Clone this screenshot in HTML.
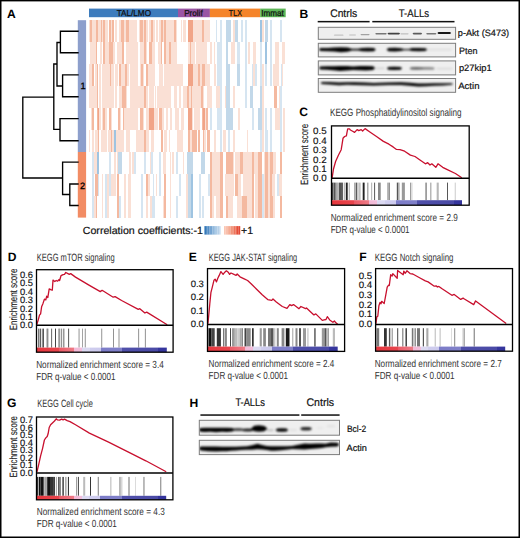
<!DOCTYPE html>
<html><head><meta charset="utf-8"><style>
html,body{margin:0;padding:0;background:#fff;}
svg{display:block;font-family:"Liberation Sans", sans-serif;text-rendering:geometricPrecision;}
</style></head><body>
<svg width="520" height="538" viewBox="0 0 520 538">
<rect width="520" height="538" fill="#fff"/>
<g>
<text x="7.0" y="17.9" font-size="12.1" font-weight="bold" fill="#000" text-anchor="start" >A</text>
<rect x="89" y="8.6" width="89.00" height="8.60" fill="#3d7cbd"/>
<text x="116.7" y="15.9" font-size="8.6" font-weight="normal" fill="#111" text-anchor="start" textLength="34.30" lengthAdjust="spacingAndGlyphs"  stroke="#111" stroke-width="0.25">TAL/LMO</text>
<rect x="178" y="8.6" width="31.90" height="8.60" fill="#9a55a4"/>
<text x="184.2" y="15.9" font-size="8.6" font-weight="normal" fill="#111" text-anchor="start" textLength="18.48" lengthAdjust="spacingAndGlyphs"  stroke="#111" stroke-width="0.25">Prolif</text>
<rect x="209.9" y="8.6" width="50.30" height="8.60" fill="#f5842a"/>
<text x="228.8" y="15.9" font-size="8.6" font-weight="normal" fill="#111" text-anchor="start" textLength="13.10" lengthAdjust="spacingAndGlyphs"  stroke="#111" stroke-width="0.25">TLX</text>
<rect x="260.2" y="8.6" width="25.50" height="8.60" fill="#5cb556"/>
<text x="261.3" y="15.9" font-size="8.6" font-weight="normal" fill="#111" text-anchor="start" textLength="22.50" lengthAdjust="spacingAndGlyphs"  stroke="#111" stroke-width="0.25">Immat</text>
<g shape-rendering="crispEdges"><rect x="88.80" y="20.20" width="0.72" height="21.93" fill="#fae0d5"/><rect x="89.52" y="20.20" width="2.28" height="21.93" fill="#f4b9a0"/><rect x="91.81" y="20.20" width="4.44" height="21.93" fill="#fae0d5"/><rect x="96.25" y="20.20" width="1.27" height="21.93" fill="#f4b9a0"/><rect x="98.15" y="20.20" width="2.54" height="21.93" fill="#fae0d5"/><rect x="100.69" y="20.20" width="1.02" height="21.93" fill="#f4b9a0"/><rect x="101.71" y="20.20" width="1.27" height="21.93" fill="#fae0d5"/><rect x="102.97" y="20.20" width="2.16" height="21.93" fill="#f4b9a0"/><rect x="105.13" y="20.20" width="3.17" height="21.93" fill="#fae0d5"/><rect x="109.32" y="20.20" width="1.52" height="21.93" fill="#f4b9a0"/><rect x="110.84" y="20.20" width="1.27" height="21.93" fill="#fae0d5"/><rect x="112.11" y="20.20" width="1.90" height="21.93" fill="#f4b9a0"/><rect x="115.28" y="20.20" width="1.27" height="21.93" fill="#fae0d5"/><rect x="119.09" y="20.20" width="1.65" height="21.93" fill="#fae0d5"/><rect x="120.74" y="20.20" width="3.05" height="21.93" fill="#f4b9a0"/><rect x="123.79" y="20.20" width="2.03" height="21.93" fill="#fae0d5"/><rect x="125.82" y="20.20" width="3.43" height="21.93" fill="#f4b9a0"/><rect x="129.24" y="20.20" width="8.25" height="21.93" fill="#fae0d5"/><rect x="138.76" y="20.20" width="1.52" height="21.93" fill="#fae0d5"/><rect x="140.28" y="20.20" width="2.54" height="21.93" fill="#f4b9a0"/><rect x="142.82" y="20.20" width="1.65" height="21.93" fill="#fae0d5"/><rect x="144.47" y="20.20" width="1.27" height="21.93" fill="#f4b9a0"/><rect x="145.74" y="20.20" width="1.90" height="21.93" fill="#fae0d5"/><rect x="148.91" y="20.20" width="1.90" height="21.93" fill="#fae0d5"/><rect x="150.82" y="20.20" width="1.90" height="21.93" fill="#f4b9a0"/><rect x="152.72" y="20.20" width="1.27" height="21.93" fill="#fae0d5"/><rect x="90.28" y="42.13" width="5.58" height="21.93" fill="#fae0d5"/><rect x="95.87" y="42.13" width="1.27" height="21.93" fill="#f4b9a0"/><rect x="100.44" y="42.13" width="1.52" height="21.93" fill="#fae0d5"/><rect x="103.48" y="42.13" width="1.27" height="21.93" fill="#f4b9a0"/><rect x="104.75" y="42.13" width="4.19" height="21.93" fill="#fae0d5"/><rect x="108.94" y="42.13" width="4.44" height="21.93" fill="#f4b9a0"/><rect x="113.38" y="42.13" width="1.90" height="21.93" fill="#fae0d5"/><rect x="117.19" y="42.13" width="4.82" height="21.93" fill="#fae0d5"/><rect x="122.01" y="42.13" width="1.52" height="21.93" fill="#f4b9a0"/><rect x="125.82" y="42.13" width="12.31" height="21.93" fill="#fae0d5"/><rect x="140.03" y="42.13" width="3.81" height="21.93" fill="#fae0d5"/><rect x="143.84" y="42.13" width="1.90" height="21.93" fill="#f4b9a0"/><rect x="145.74" y="42.13" width="1.27" height="21.93" fill="#fae0d5"/><rect x="148.91" y="42.13" width="3.55" height="21.93" fill="#f4b9a0"/><rect x="152.47" y="42.13" width="1.52" height="21.93" fill="#fae0d5"/><rect x="88.80" y="64.06" width="0.72" height="21.93" fill="#fae0d5"/><rect x="90.28" y="64.06" width="1.52" height="21.93" fill="#fae0d5"/><rect x="91.81" y="64.06" width="1.90" height="21.93" fill="#f4b9a0"/><rect x="94.98" y="64.06" width="1.65" height="21.93" fill="#fae0d5"/><rect x="96.63" y="64.06" width="1.78" height="21.93" fill="#f4b9a0"/><rect x="99.42" y="64.06" width="1.27" height="21.93" fill="#fae0d5"/><rect x="101.71" y="64.06" width="8.50" height="21.93" fill="#fae0d5"/><rect x="110.21" y="64.06" width="1.27" height="21.93" fill="#f4b9a0"/><rect x="111.48" y="64.06" width="2.54" height="21.93" fill="#fae0d5"/><rect x="115.28" y="64.06" width="2.54" height="21.93" fill="#fae0d5"/><rect x="119.09" y="64.06" width="1.90" height="21.93" fill="#f4b9a0"/><rect x="120.99" y="64.06" width="3.81" height="21.93" fill="#fae0d5"/><rect x="124.80" y="64.06" width="2.54" height="21.93" fill="#f4b9a0"/><rect x="127.34" y="64.06" width="1.27" height="21.93" fill="#fae0d5"/><rect x="129.88" y="64.06" width="8.25" height="21.93" fill="#fae0d5"/><rect x="140.03" y="64.06" width="1.27" height="21.93" fill="#fae0d5"/><rect x="141.30" y="64.06" width="1.52" height="21.93" fill="#f4b9a0"/><rect x="142.82" y="64.06" width="1.65" height="21.93" fill="#fae0d5"/><rect x="145.74" y="64.06" width="1.90" height="21.93" fill="#f4b9a0"/><rect x="147.64" y="64.06" width="6.35" height="21.93" fill="#fae0d5"/><rect x="154.00" y="20.20" width="1.02" height="21.93" fill="#fae0d5"/><rect x="155.90" y="20.20" width="1.90" height="21.93" fill="#fae0d5"/><rect x="159.08" y="20.20" width="1.52" height="21.93" fill="#fae0d5"/><rect x="160.60" y="20.20" width="2.28" height="21.93" fill="#f4b9a0"/><rect x="162.88" y="20.20" width="1.27" height="21.93" fill="#fae0d5"/><rect x="164.15" y="20.20" width="1.90" height="21.93" fill="#f4b9a0"/><rect x="166.06" y="20.20" width="8.25" height="21.93" fill="#fae0d5"/><rect x="174.30" y="20.20" width="1.90" height="21.93" fill="#f4b9a0"/><rect x="176.21" y="20.20" width="1.27" height="21.93" fill="#fae0d5"/><rect x="180.65" y="20.20" width="1.27" height="21.93" fill="#fae0d5"/><rect x="183.19" y="20.20" width="2.54" height="21.93" fill="#fae0d5"/><rect x="187.63" y="20.20" width="5.08" height="21.93" fill="#f1a487"/><rect x="192.71" y="20.20" width="9.52" height="21.93" fill="#fae0d5"/><rect x="202.22" y="20.20" width="1.90" height="21.93" fill="#f4b9a0"/><rect x="204.13" y="20.20" width="5.71" height="21.93" fill="#fae0d5"/><rect x="216.18" y="20.20" width="1.27" height="21.93" fill="#d6e5f1"/><rect x="154.00" y="42.13" width="1.27" height="21.93" fill="#fae0d5"/><rect x="157.81" y="42.13" width="3.17" height="21.93" fill="#fae0d5"/><rect x="160.98" y="42.13" width="1.27" height="21.93" fill="#f4b9a0"/><rect x="163.52" y="42.13" width="2.54" height="21.93" fill="#f4b9a0"/><rect x="166.06" y="42.13" width="3.17" height="21.93" fill="#fae0d5"/><rect x="169.23" y="42.13" width="1.52" height="21.93" fill="#f4b9a0"/><rect x="170.75" y="42.13" width="6.73" height="21.93" fill="#fae0d5"/><rect x="187.63" y="42.13" width="1.90" height="21.93" fill="#fae0d5"/><rect x="189.53" y="42.13" width="1.52" height="21.93" fill="#f4b9a0"/><rect x="191.06" y="42.13" width="3.55" height="21.93" fill="#fae0d5"/><rect x="195.88" y="42.13" width="11.42" height="21.93" fill="#fae0d5"/><rect x="209.84" y="42.13" width="1.90" height="21.93" fill="#fae0d5"/><rect x="213.64" y="42.13" width="1.27" height="21.93" fill="#fae0d5"/><rect x="217.45" y="42.13" width="2.54" height="21.93" fill="#d6e5f1"/><rect x="154.00" y="64.06" width="0.63" height="21.93" fill="#fae0d5"/><rect x="159.08" y="64.06" width="3.81" height="21.93" fill="#fae0d5"/><rect x="163.90" y="64.06" width="19.29" height="21.93" fill="#fae0d5"/><rect x="187.63" y="64.06" width="5.08" height="21.93" fill="#f1a487"/><rect x="192.71" y="64.06" width="5.71" height="21.93" fill="#fae0d5"/><rect x="198.42" y="64.06" width="1.90" height="21.93" fill="#f4b9a0"/><rect x="200.32" y="64.06" width="1.90" height="21.93" fill="#fae0d5"/><rect x="202.22" y="64.06" width="2.54" height="21.93" fill="#f4b9a0"/><rect x="204.76" y="64.06" width="5.08" height="21.93" fill="#fae0d5"/><rect x="213.64" y="64.06" width="2.54" height="21.93" fill="#fae0d5"/><rect x="217.45" y="64.06" width="2.54" height="21.93" fill="#d6e5f1"/><rect x="220.00" y="20.20" width="1.52" height="21.93" fill="#d6e5f1"/><rect x="226.09" y="20.20" width="5.08" height="21.93" fill="#c2d8e9"/><rect x="233.32" y="20.20" width="1.65" height="21.93" fill="#fae0d5"/><rect x="234.97" y="20.20" width="3.43" height="21.93" fill="#c2d8e9"/><rect x="240.94" y="20.20" width="1.90" height="21.93" fill="#d6e5f1"/><rect x="244.75" y="20.20" width="2.16" height="21.93" fill="#d6e5f1"/><rect x="259.97" y="20.20" width="1.90" height="21.93" fill="#9fc4e1"/><rect x="261.88" y="20.20" width="1.90" height="21.93" fill="#fae0d5"/><rect x="265.05" y="20.20" width="3.17" height="21.93" fill="#c2d8e9"/><rect x="269.75" y="20.20" width="2.03" height="21.93" fill="#d6e5f1"/><rect x="279.64" y="20.20" width="2.28" height="21.93" fill="#d6e5f1"/><rect x="220.00" y="42.13" width="1.52" height="21.93" fill="#d6e5f1"/><rect x="226.09" y="42.13" width="2.16" height="21.93" fill="#c2d8e9"/><rect x="231.42" y="42.13" width="3.55" height="21.93" fill="#fae0d5"/><rect x="237.13" y="42.13" width="2.54" height="21.93" fill="#d6e5f1"/><rect x="244.75" y="42.13" width="2.16" height="21.93" fill="#d6e5f1"/><rect x="247.92" y="42.13" width="2.28" height="21.93" fill="#fae0d5"/><rect x="253.25" y="42.13" width="2.92" height="21.93" fill="#fae0d5"/><rect x="259.97" y="42.13" width="1.65" height="21.93" fill="#d6e5f1"/><rect x="265.05" y="42.13" width="1.90" height="21.93" fill="#9fc4e1"/><rect x="269.75" y="42.13" width="2.03" height="21.93" fill="#d6e5f1"/><rect x="275.20" y="42.13" width="3.81" height="21.93" fill="#fae0d5"/><rect x="282.18" y="42.13" width="3.02" height="21.93" fill="#fae0d5"/><rect x="220.00" y="64.06" width="1.52" height="21.93" fill="#d6e5f1"/><rect x="226.09" y="64.06" width="3.81" height="21.93" fill="#c2d8e9"/><rect x="237.13" y="64.06" width="2.54" height="21.93" fill="#c2d8e9"/><rect x="244.75" y="64.06" width="2.16" height="21.93" fill="#d6e5f1"/><rect x="251.73" y="64.06" width="1.52" height="21.93" fill="#d6e5f1"/><rect x="253.25" y="64.06" width="1.65" height="21.93" fill="#fae0d5"/><rect x="254.90" y="64.06" width="1.90" height="21.93" fill="#d6e5f1"/><rect x="259.97" y="64.06" width="1.90" height="21.93" fill="#d6e5f1"/><rect x="261.88" y="64.06" width="1.90" height="21.93" fill="#fae0d5"/><rect x="265.05" y="64.06" width="1.90" height="21.93" fill="#d6e5f1"/><rect x="269.75" y="64.06" width="2.03" height="21.93" fill="#d6e5f1"/><rect x="273.30" y="64.06" width="5.71" height="21.93" fill="#fae0d5"/><rect x="280.66" y="64.06" width="1.52" height="21.93" fill="#d6e5f1"/><rect x="282.18" y="64.06" width="1.27" height="21.93" fill="#fae0d5"/><rect x="88.80" y="85.99" width="8.08" height="21.93" fill="#fae0d5"/><rect x="96.88" y="85.99" width="1.27" height="21.93" fill="#f4b9a0"/><rect x="99.17" y="85.99" width="1.52" height="21.93" fill="#fae0d5"/><rect x="101.96" y="85.99" width="12.06" height="21.93" fill="#fae0d5"/><rect x="115.28" y="85.99" width="1.27" height="21.93" fill="#fae0d5"/><rect x="119.09" y="85.99" width="2.54" height="21.93" fill="#fae0d5"/><rect x="121.63" y="85.99" width="4.44" height="21.93" fill="#f4b9a0"/><rect x="126.07" y="85.99" width="1.27" height="21.93" fill="#fae0d5"/><rect x="129.88" y="85.99" width="13.96" height="21.93" fill="#fae0d5"/><rect x="143.84" y="85.99" width="1.90" height="21.93" fill="#f4b9a0"/><rect x="145.74" y="85.99" width="1.90" height="21.93" fill="#fae0d5"/><rect x="148.91" y="85.99" width="5.08" height="21.93" fill="#fae0d5"/><rect x="90.54" y="107.92" width="1.27" height="21.93" fill="#fae0d5"/><rect x="91.81" y="107.92" width="1.90" height="21.93" fill="#f4b9a0"/><rect x="96.88" y="107.92" width="1.27" height="21.93" fill="#f4b9a0"/><rect x="98.15" y="107.92" width="1.27" height="21.93" fill="#f1a487"/><rect x="99.42" y="107.92" width="1.27" height="21.93" fill="#fae0d5"/><rect x="101.96" y="107.92" width="1.27" height="21.93" fill="#fae0d5"/><rect x="103.23" y="107.92" width="1.90" height="21.93" fill="#f4b9a0"/><rect x="105.13" y="107.92" width="1.90" height="21.93" fill="#fae0d5"/><rect x="108.94" y="107.92" width="1.90" height="21.93" fill="#f4b9a0"/><rect x="110.84" y="107.92" width="1.27" height="21.93" fill="#fae0d5"/><rect x="118.46" y="107.92" width="1.52" height="21.93" fill="#f4b9a0"/><rect x="119.98" y="107.92" width="1.27" height="21.93" fill="#fae0d5"/><rect x="123.28" y="107.92" width="0.89" height="21.93" fill="#f4b9a0"/><rect x="124.17" y="107.92" width="13.96" height="21.93" fill="#fae0d5"/><rect x="140.03" y="107.92" width="2.54" height="21.93" fill="#f4b9a0"/><rect x="142.57" y="107.92" width="1.90" height="21.93" fill="#fae0d5"/><rect x="146.38" y="107.92" width="2.54" height="21.93" fill="#fae0d5"/><rect x="148.91" y="107.92" width="5.08" height="21.93" fill="#f1a487"/><rect x="88.80" y="129.85" width="1.48" height="21.93" fill="#fae0d5"/><rect x="91.81" y="129.85" width="1.90" height="21.93" fill="#fae0d5"/><rect x="94.98" y="129.85" width="3.43" height="21.93" fill="#fae0d5"/><rect x="98.41" y="129.85" width="1.02" height="21.93" fill="#f4b9a0"/><rect x="100.69" y="129.85" width="6.35" height="21.93" fill="#fae0d5"/><rect x="108.30" y="129.85" width="2.28" height="21.93" fill="#fae0d5"/><rect x="110.59" y="129.85" width="1.52" height="21.93" fill="#f4b9a0"/><rect x="112.11" y="129.85" width="1.90" height="21.93" fill="#fae0d5"/><rect x="114.02" y="129.85" width="1.65" height="21.93" fill="#9fc4e1"/><rect x="115.66" y="129.85" width="8.50" height="21.93" fill="#fae0d5"/><rect x="126.07" y="129.85" width="3.81" height="21.93" fill="#fae0d5"/><rect x="136.22" y="129.85" width="7.61" height="21.93" fill="#fae0d5"/><rect x="143.84" y="129.85" width="1.90" height="21.93" fill="#f4b9a0"/><rect x="145.74" y="129.85" width="3.17" height="21.93" fill="#fae0d5"/><rect x="150.82" y="129.85" width="3.17" height="21.93" fill="#fae0d5"/><rect x="155.02" y="85.99" width="0.89" height="21.93" fill="#fae0d5"/><rect x="156.54" y="85.99" width="14.59" height="21.93" fill="#fae0d5"/><rect x="174.30" y="85.99" width="3.17" height="21.93" fill="#fae0d5"/><rect x="179.38" y="85.99" width="1.90" height="21.93" fill="#fae0d5"/><rect x="183.19" y="85.99" width="4.06" height="21.93" fill="#fae0d5"/><rect x="187.25" y="85.99" width="1.65" height="21.93" fill="#f4b9a0"/><rect x="188.90" y="85.99" width="1.65" height="21.93" fill="#fae0d5"/><rect x="190.55" y="85.99" width="1.78" height="21.93" fill="#f4b9a0"/><rect x="192.32" y="85.99" width="8.63" height="21.93" fill="#fae0d5"/><rect x="200.95" y="85.99" width="1.90" height="21.93" fill="#f4b9a0"/><rect x="202.86" y="85.99" width="1.27" height="21.93" fill="#fae0d5"/><rect x="207.30" y="85.99" width="4.44" height="21.93" fill="#fae0d5"/><rect x="215.55" y="85.99" width="4.44" height="21.93" fill="#fae0d5"/><rect x="154.00" y="107.92" width="3.81" height="21.93" fill="#fae0d5"/><rect x="159.08" y="107.92" width="3.17" height="21.93" fill="#f4b9a0"/><rect x="162.25" y="107.92" width="1.27" height="21.93" fill="#fae0d5"/><rect x="166.06" y="107.92" width="1.90" height="21.93" fill="#fae0d5"/><rect x="169.86" y="107.92" width="1.90" height="21.93" fill="#fae0d5"/><rect x="174.94" y="107.92" width="4.44" height="21.93" fill="#fae0d5"/><rect x="180.65" y="107.92" width="3.81" height="21.93" fill="#fae0d5"/><rect x="187.63" y="107.92" width="4.44" height="21.93" fill="#f1a487"/><rect x="192.07" y="107.92" width="1.27" height="21.93" fill="#fae0d5"/><rect x="194.36" y="107.92" width="5.33" height="21.93" fill="#fae0d5"/><rect x="201.59" y="107.92" width="1.27" height="21.93" fill="#f4b9a0"/><rect x="202.86" y="107.92" width="1.90" height="21.93" fill="#f1a487"/><rect x="204.76" y="107.92" width="1.52" height="21.93" fill="#fae0d5"/><rect x="206.28" y="107.92" width="1.65" height="21.93" fill="#f4b9a0"/><rect x="209.84" y="107.92" width="1.90" height="21.93" fill="#d6e5f1"/><rect x="217.45" y="107.92" width="2.54" height="21.93" fill="#d6e5f1"/><rect x="160.98" y="129.85" width="1.90" height="21.93" fill="#f4b9a0"/><rect x="164.41" y="129.85" width="2.28" height="21.93" fill="#fae0d5"/><rect x="168.59" y="129.85" width="1.27" height="21.93" fill="#fae0d5"/><rect x="176.84" y="129.85" width="6.35" height="21.93" fill="#fae0d5"/><rect x="187.63" y="129.85" width="1.90" height="21.93" fill="#f4b9a0"/><rect x="189.53" y="129.85" width="2.54" height="21.93" fill="#fae0d5"/><rect x="192.07" y="129.85" width="4.44" height="21.93" fill="#f4b9a0"/><rect x="198.42" y="129.85" width="1.90" height="21.93" fill="#f4b9a0"/><rect x="202.86" y="129.85" width="1.27" height="21.93" fill="#f4b9a0"/><rect x="204.13" y="129.85" width="1.90" height="21.93" fill="#fae0d5"/><rect x="207.30" y="129.85" width="2.54" height="21.93" fill="#f4b9a0"/><rect x="213.64" y="129.85" width="2.54" height="21.93" fill="#fae0d5"/><rect x="220.00" y="85.99" width="1.52" height="21.93" fill="#d6e5f1"/><rect x="225.08" y="85.99" width="1.02" height="21.93" fill="#fae0d5"/><rect x="226.09" y="85.99" width="3.81" height="21.93" fill="#c2d8e9"/><rect x="233.32" y="85.99" width="1.65" height="21.93" fill="#fae0d5"/><rect x="244.75" y="85.99" width="1.90" height="21.93" fill="#d6e5f1"/><rect x="250.20" y="85.99" width="3.05" height="21.93" fill="#c2d8e9"/><rect x="259.97" y="85.99" width="1.90" height="21.93" fill="#c2d8e9"/><rect x="261.88" y="85.99" width="1.90" height="21.93" fill="#fae0d5"/><rect x="273.93" y="85.99" width="2.92" height="21.93" fill="#f4b9a0"/><rect x="278.63" y="85.99" width="1.27" height="21.93" fill="#fae0d5"/><rect x="279.90" y="85.99" width="2.28" height="21.93" fill="#d6e5f1"/><rect x="220.00" y="107.92" width="1.52" height="21.93" fill="#d6e5f1"/><rect x="226.09" y="107.92" width="6.85" height="21.93" fill="#c2d8e9"/><rect x="238.40" y="107.92" width="1.65" height="21.93" fill="#fae0d5"/><rect x="251.73" y="107.92" width="1.90" height="21.93" fill="#d6e5f1"/><rect x="258.07" y="107.92" width="3.81" height="21.93" fill="#c2d8e9"/><rect x="261.88" y="107.92" width="1.90" height="21.93" fill="#fae0d5"/><rect x="265.05" y="107.92" width="1.90" height="21.93" fill="#d6e5f1"/><rect x="269.75" y="107.92" width="2.03" height="21.93" fill="#d6e5f1"/><rect x="275.20" y="107.92" width="4.44" height="21.93" fill="#fae0d5"/><rect x="279.64" y="107.92" width="2.54" height="21.93" fill="#d6e5f1"/><rect x="283.20" y="107.92" width="2.00" height="21.93" fill="#fae0d5"/><rect x="220.00" y="129.85" width="1.52" height="21.93" fill="#d6e5f1"/><rect x="223.17" y="129.85" width="2.92" height="21.93" fill="#fae0d5"/><rect x="227.87" y="129.85" width="2.03" height="21.93" fill="#d6e5f1"/><rect x="233.32" y="129.85" width="1.65" height="21.93" fill="#fae0d5"/><rect x="246.65" y="129.85" width="1.27" height="21.93" fill="#fae0d5"/><rect x="259.97" y="129.85" width="1.90" height="21.93" fill="#d6e5f1"/><rect x="261.88" y="129.85" width="1.90" height="21.93" fill="#fae0d5"/><rect x="265.05" y="129.85" width="2.92" height="21.93" fill="#d6e5f1"/><rect x="269.75" y="129.85" width="2.03" height="21.93" fill="#d6e5f1"/><rect x="279.64" y="129.85" width="2.54" height="21.93" fill="#d6e5f1"/><rect x="283.45" y="129.85" width="1.75" height="21.93" fill="#fae0d5"/><rect x="92.06" y="151.78" width="1.65" height="21.93" fill="#d6e5f1"/><rect x="93.71" y="151.78" width="3.17" height="21.93" fill="#fae0d5"/><rect x="96.88" y="151.78" width="1.90" height="21.93" fill="#9fc4e1"/><rect x="108.94" y="151.78" width="1.90" height="21.93" fill="#d6e5f1"/><rect x="114.02" y="151.78" width="1.65" height="21.93" fill="#fae0d5"/><rect x="117.19" y="151.78" width="1.27" height="21.93" fill="#fae0d5"/><rect x="118.46" y="151.78" width="3.81" height="21.93" fill="#c2d8e9"/><rect x="128.61" y="151.78" width="1.90" height="21.93" fill="#fae0d5"/><rect x="132.16" y="151.78" width="1.78" height="21.93" fill="#fae0d5"/><rect x="133.94" y="151.78" width="1.65" height="21.93" fill="#d6e5f1"/><rect x="143.84" y="151.78" width="1.90" height="21.93" fill="#d6e5f1"/><rect x="149.55" y="151.78" width="1.27" height="21.93" fill="#fae0d5"/><rect x="150.82" y="151.78" width="1.90" height="21.93" fill="#d6e5f1"/><rect x="92.06" y="173.71" width="1.65" height="21.93" fill="#d6e5f1"/><rect x="94.98" y="173.71" width="2.54" height="21.93" fill="#f4b9a0"/><rect x="97.52" y="173.71" width="1.27" height="21.93" fill="#d6e5f1"/><rect x="101.96" y="173.71" width="1.52" height="21.93" fill="#fae0d5"/><rect x="105.13" y="173.71" width="1.90" height="21.93" fill="#d6e5f1"/><rect x="107.04" y="173.71" width="1.90" height="21.93" fill="#fae0d5"/><rect x="108.94" y="173.71" width="1.90" height="21.93" fill="#d6e5f1"/><rect x="110.84" y="173.71" width="4.82" height="21.93" fill="#fae0d5"/><rect x="117.19" y="173.71" width="1.90" height="21.93" fill="#f4b9a0"/><rect x="124.17" y="173.71" width="1.52" height="21.93" fill="#fae0d5"/><rect x="127.97" y="173.71" width="2.54" height="21.93" fill="#fae0d5"/><rect x="140.66" y="173.71" width="1.90" height="21.93" fill="#d6e5f1"/><rect x="145.74" y="173.71" width="1.90" height="21.93" fill="#f4b9a0"/><rect x="147.64" y="173.71" width="2.54" height="21.93" fill="#fae0d5"/><rect x="152.72" y="173.71" width="1.27" height="21.93" fill="#d6e5f1"/><rect x="92.06" y="195.64" width="1.65" height="21.93" fill="#d6e5f1"/><rect x="93.71" y="195.64" width="1.90" height="21.93" fill="#fae0d5"/><rect x="95.61" y="195.64" width="1.52" height="21.93" fill="#f4b9a0"/><rect x="101.96" y="195.64" width="1.52" height="21.93" fill="#fae0d5"/><rect x="105.13" y="195.64" width="1.90" height="21.93" fill="#d6e5f1"/><rect x="107.04" y="195.64" width="1.90" height="21.93" fill="#fae0d5"/><rect x="117.19" y="195.64" width="1.90" height="21.93" fill="#f4b9a0"/><rect x="119.09" y="195.64" width="1.65" height="21.93" fill="#d6e5f1"/><rect x="124.17" y="195.64" width="1.52" height="21.93" fill="#fae0d5"/><rect x="127.97" y="195.64" width="2.54" height="21.93" fill="#fae0d5"/><rect x="140.66" y="195.64" width="1.90" height="21.93" fill="#d6e5f1"/><rect x="145.74" y="195.64" width="1.90" height="21.93" fill="#fae0d5"/><rect x="150.18" y="195.64" width="1.90" height="21.93" fill="#fae0d5"/><rect x="152.09" y="195.64" width="1.90" height="21.93" fill="#d6e5f1"/><rect x="159.08" y="151.78" width="1.90" height="21.93" fill="#d6e5f1"/><rect x="162.88" y="151.78" width="3.17" height="21.93" fill="#fae0d5"/><rect x="169.86" y="151.78" width="0.89" height="21.93" fill="#fae0d5"/><rect x="172.40" y="151.78" width="1.90" height="21.93" fill="#fae0d5"/><rect x="175.83" y="151.78" width="2.03" height="21.93" fill="#d6e5f1"/><rect x="183.19" y="151.78" width="1.27" height="21.93" fill="#fae0d5"/><rect x="187.25" y="151.78" width="5.46" height="21.93" fill="#c2d8e9"/><rect x="200.95" y="151.78" width="3.55" height="21.93" fill="#c2d8e9"/><rect x="209.84" y="151.78" width="1.90" height="21.93" fill="#f4b9a0"/><rect x="211.74" y="151.78" width="8.25" height="21.93" fill="#fae0d5"/><rect x="155.90" y="173.71" width="1.27" height="21.93" fill="#fae0d5"/><rect x="159.08" y="173.71" width="1.90" height="21.93" fill="#d6e5f1"/><rect x="164.15" y="173.71" width="1.90" height="21.93" fill="#f4b9a0"/><rect x="169.86" y="173.71" width="0.89" height="21.93" fill="#fae0d5"/><rect x="179.38" y="173.71" width="1.90" height="21.93" fill="#d6e5f1"/><rect x="186.36" y="173.71" width="1.27" height="21.93" fill="#fae0d5"/><rect x="187.63" y="173.71" width="3.17" height="21.93" fill="#c2d8e9"/><rect x="190.80" y="173.71" width="1.90" height="21.93" fill="#9fc4e1"/><rect x="199.05" y="173.71" width="1.65" height="21.93" fill="#d6e5f1"/><rect x="207.93" y="173.71" width="1.90" height="21.93" fill="#d6e5f1"/><rect x="209.84" y="173.71" width="1.90" height="21.93" fill="#f4b9a0"/><rect x="211.74" y="173.71" width="8.25" height="21.93" fill="#fae0d5"/><rect x="154.00" y="195.64" width="1.27" height="21.93" fill="#d6e5f1"/><rect x="162.88" y="195.64" width="1.27" height="21.93" fill="#fae0d5"/><rect x="164.15" y="195.64" width="1.90" height="21.93" fill="#f4b9a0"/><rect x="169.86" y="195.64" width="0.89" height="21.93" fill="#fae0d5"/><rect x="175.83" y="195.64" width="2.03" height="21.93" fill="#d6e5f1"/><rect x="186.36" y="195.64" width="1.27" height="21.93" fill="#fae0d5"/><rect x="187.63" y="195.64" width="3.17" height="21.93" fill="#c2d8e9"/><rect x="190.80" y="195.64" width="1.90" height="21.93" fill="#9fc4e1"/><rect x="199.05" y="195.64" width="1.65" height="21.93" fill="#d6e5f1"/><rect x="202.22" y="195.64" width="1.90" height="21.93" fill="#d6e5f1"/><rect x="209.84" y="195.64" width="1.90" height="21.93" fill="#f4b9a0"/><rect x="211.74" y="195.64" width="2.54" height="21.93" fill="#fae0d5"/><rect x="216.18" y="195.64" width="3.81" height="21.93" fill="#fae0d5"/><rect x="220.00" y="151.78" width="2.54" height="21.93" fill="#f4b9a0"/><rect x="225.71" y="151.78" width="6.98" height="21.93" fill="#f4b9a0"/><rect x="232.69" y="151.78" width="1.27" height="21.93" fill="#fae0d5"/><rect x="235.23" y="151.78" width="4.44" height="21.93" fill="#fae0d5"/><rect x="239.67" y="151.78" width="3.17" height="21.93" fill="#f4b9a0"/><rect x="242.84" y="151.78" width="8.88" height="21.93" fill="#fae0d5"/><rect x="251.73" y="151.78" width="1.90" height="21.93" fill="#f4b9a0"/><rect x="253.63" y="151.78" width="4.44" height="21.93" fill="#fae0d5"/><rect x="258.07" y="151.78" width="3.81" height="21.93" fill="#f4b9a0"/><rect x="263.78" y="151.78" width="1.27" height="21.93" fill="#fae0d5"/><rect x="265.05" y="151.78" width="3.17" height="21.93" fill="#f4b9a0"/><rect x="268.22" y="151.78" width="1.90" height="21.93" fill="#fae0d5"/><rect x="270.13" y="151.78" width="3.17" height="21.93" fill="#f4b9a0"/><rect x="273.30" y="151.78" width="2.54" height="21.93" fill="#fae0d5"/><rect x="279.64" y="151.78" width="2.54" height="21.93" fill="#f4b9a0"/><rect x="220.00" y="173.71" width="2.54" height="21.93" fill="#f4b9a0"/><rect x="225.08" y="173.71" width="8.88" height="21.93" fill="#fae0d5"/><rect x="235.23" y="173.71" width="3.17" height="21.93" fill="#f4b9a0"/><rect x="238.40" y="173.71" width="2.54" height="21.93" fill="#fae0d5"/><rect x="242.84" y="173.71" width="8.88" height="21.93" fill="#fae0d5"/><rect x="251.73" y="173.71" width="1.90" height="21.93" fill="#f4b9a0"/><rect x="254.90" y="173.71" width="3.17" height="21.93" fill="#fae0d5"/><rect x="258.07" y="173.71" width="3.81" height="21.93" fill="#f4b9a0"/><rect x="261.88" y="173.71" width="1.90" height="21.93" fill="#d6e5f1"/><rect x="263.78" y="173.71" width="1.27" height="21.93" fill="#fae0d5"/><rect x="265.05" y="173.71" width="3.17" height="21.93" fill="#f4b9a0"/><rect x="268.22" y="173.71" width="1.90" height="21.93" fill="#fae0d5"/><rect x="270.13" y="173.71" width="1.90" height="21.93" fill="#f4b9a0"/><rect x="272.03" y="173.71" width="2.54" height="21.93" fill="#fae0d5"/><rect x="276.85" y="173.71" width="1.78" height="21.93" fill="#d6e5f1"/><rect x="278.63" y="173.71" width="3.55" height="21.93" fill="#fae0d5"/><rect x="220.00" y="195.64" width="2.54" height="21.93" fill="#f4b9a0"/><rect x="225.71" y="195.64" width="2.16" height="21.93" fill="#f4b9a0"/><rect x="227.87" y="195.64" width="4.82" height="21.93" fill="#fae0d5"/><rect x="236.50" y="195.64" width="5.08" height="21.93" fill="#fae0d5"/><rect x="241.57" y="195.64" width="5.08" height="21.93" fill="#f4b9a0"/><rect x="246.65" y="195.64" width="5.08" height="21.93" fill="#fae0d5"/><rect x="251.73" y="195.64" width="1.90" height="21.93" fill="#f4b9a0"/><rect x="254.90" y="195.64" width="3.17" height="21.93" fill="#fae0d5"/><rect x="258.07" y="195.64" width="3.81" height="21.93" fill="#f4b9a0"/><rect x="261.88" y="195.64" width="1.90" height="21.93" fill="#d6e5f1"/><rect x="263.78" y="195.64" width="1.27" height="21.93" fill="#fae0d5"/><rect x="265.05" y="195.64" width="3.17" height="21.93" fill="#f4b9a0"/><rect x="268.22" y="195.64" width="1.90" height="21.93" fill="#fae0d5"/><rect x="270.13" y="195.64" width="3.17" height="21.93" fill="#f4b9a0"/><rect x="273.30" y="195.64" width="1.90" height="21.93" fill="#fae0d5"/><rect x="279.64" y="195.64" width="2.54" height="21.93" fill="#f4b9a0"/></g>
<rect x="77.8" y="20.2" width="8.3" height="131.8" fill="#8d9fcc"/>
<rect x="77.8" y="152" width="8.3" height="65.6" fill="#f28c64"/>
<text x="80.6" y="88.9" font-size="9.2" font-weight="normal" fill="#000" text-anchor="start"  stroke="#000" stroke-width="0.3">1</text>
<text x="80.1" y="188.7" font-size="9.2" font-weight="normal" fill="#000" text-anchor="start"  stroke="#000" stroke-width="0.3">2</text>
<path d="M60.4,31.2H78 M60.4,52.7H78 M60.4,31.2V52.7 M57,42.5H60.4 M62.6,74.8H78 M62.6,96.7H78 M62.6,74.8V96.7 M57,86H62.6 M57,42.5V86 M53.8,64H57 M60,118.6H78 M60,140.7H78 M60,118.6V140.7 M53.8,129.4H60 M53.8,64V129.4 M22.8,97.1H53.8 M62.6,162.1H78 M69.8,184.0H78 M69.8,205.5H78 M69.8,184.0V205.5 M62.6,194.5H69.8 M62.6,162.1V194.5 M22.8,178H62.6 M22.8,97.1V178" stroke="#000" stroke-width="1.35" fill="none" stroke-linecap="square"/>
<text x="82.8" y="234.0" font-size="10.4" font-weight="normal" fill="#111" text-anchor="start" textLength="120.20" lengthAdjust="spacingAndGlyphs"  stroke="#111" stroke-width="0.2">Correlation coefficients:-1</text>
<defs><linearGradient id="lgb" x1="0" x2="1"><stop offset="0" stop-color="#2c6eb0"/><stop offset="1" stop-color="#cfe0f0"/></linearGradient><linearGradient id="lgr" x1="0" x2="1"><stop offset="0" stop-color="#fbd0bd"/><stop offset="1" stop-color="#d42d1e"/></linearGradient></defs>
<rect x="204.40" y="226.1" width="1.67" height="8.5" fill="#3479b9"/>
<rect x="206.02" y="226.1" width="1.67" height="8.5" fill="#528dc4"/>
<rect x="207.64" y="226.1" width="1.67" height="8.5" fill="#528dc5"/>
<rect x="209.26" y="226.1" width="1.67" height="8.5" fill="#6fa0cf"/>
<rect x="210.88" y="226.1" width="1.67" height="8.5" fill="#74a5d2"/>
<rect x="212.50" y="226.1" width="1.67" height="8.5" fill="#90b8dc"/>
<rect x="214.12" y="226.1" width="1.67" height="8.5" fill="#97bdde"/>
<rect x="215.74" y="226.1" width="1.67" height="8.5" fill="#adcbe6"/>
<rect x="217.36" y="226.1" width="1.67" height="8.5" fill="#b6d0e8"/>
<rect x="218.98" y="226.1" width="1.67" height="8.5" fill="#caddef"/>
<rect x="224.00" y="226.1" width="1.67" height="8.5" fill="#fac7b4"/>
<rect x="225.62" y="226.1" width="1.67" height="8.5" fill="#f9c0ad"/>
<rect x="227.24" y="226.1" width="1.67" height="8.5" fill="#f6b098"/>
<rect x="228.86" y="226.1" width="1.67" height="8.5" fill="#f5ab93"/>
<rect x="230.48" y="226.1" width="1.67" height="8.5" fill="#f2947a"/>
<rect x="232.10" y="226.1" width="1.67" height="8.5" fill="#f08e76"/>
<rect x="233.72" y="226.1" width="1.67" height="8.5" fill="#ed745a"/>
<rect x="235.34" y="226.1" width="1.67" height="8.5" fill="#ec6e58"/>
<rect x="236.96" y="226.1" width="1.67" height="8.5" fill="#e54c37"/>
<rect x="238.58" y="226.1" width="1.67" height="8.5" fill="#e24836"/>
<text x="241.0" y="234.0" font-size="10.4" font-weight="normal" fill="#111" text-anchor="start" textLength="12.00" lengthAdjust="spacingAndGlyphs"  stroke="#111" stroke-width="0.2">+1</text>
<text x="299.5" y="17.9" font-size="12.1" font-weight="bold" fill="#000" text-anchor="start" >B</text>
<text x="330.2" y="17.3" font-size="11" font-weight="normal" fill="#111" text-anchor="start" textLength="26.90" lengthAdjust="spacingAndGlyphs"  stroke="#111" stroke-width="0.2">Cntrls</text>
<text x="398.8" y="17.3" font-size="11" font-weight="normal" fill="#111" text-anchor="start" textLength="30.30" lengthAdjust="spacingAndGlyphs"  stroke="#111" stroke-width="0.2">T-ALLs</text>
<rect x="317.7" y="20.9" width="51.9" height="1.5" fill="#111"/>
<rect x="372.3" y="20.9" width="82.2" height="1.5" fill="#111"/>
<defs><filter id="bl1" x="-20%" y="-100%" width="140%" height="300%"><feGaussianBlur stdDeviation="0.95"/></filter><filter id="bl2" x="-20%" y="-100%" width="140%" height="300%"><feGaussianBlur stdDeviation="1.0"/></filter><filter id="bl0" x="-20%" y="-100%" width="140%" height="300%"><feGaussianBlur stdDeviation="0.7"/></filter></defs>
<rect x="318.3" y="27.3" width="137.30" height="12.00" fill="#efefef" stroke="#7c7c7c" stroke-width="1"/>
<svg x="318.8" y="27.8" width="136.30" height="11.00" overflow="hidden"><g filter="url(#bl0)" transform="translate(-318.8,-27.8)">
<polygon points="333.72,35.20 334.50,34.55 343.00,34.55 343.78,35.20 343.00,35.85 334.50,35.85" fill="#000" fill-opacity="0.18"/>
<polygon points="348.92,35.00 349.70,34.35 355.40,34.35 356.18,35.00 355.40,35.65 349.70,35.65" fill="#000" fill-opacity="0.14"/>
<polygon points="360.36,34.60 361.20,33.90 368.90,33.90 369.74,34.60 368.90,35.30 361.20,35.30" fill="#000" fill-opacity="0.32"/>
<polygon points="375.16,33.70 376.00,33.00 386.00,33.00 386.84,33.70 386.00,34.40 376.00,34.40" fill="#000" fill-opacity="0.5"/>
<polygon points="387.42,33.60 388.50,32.70 399.00,32.70 400.08,33.60 399.00,34.50 388.50,34.50" fill="#000" fill-opacity="0.72"/>
<polygon points="400.22,33.80 401.00,33.15 408.00,33.15 408.78,33.80 408.00,34.45 401.00,34.45" fill="#000" fill-opacity="0.2"/>
<polygon points="412.54,33.60 413.50,32.80 421.20,32.80 422.16,33.60 421.20,34.40 413.50,34.40" fill="#000" fill-opacity="0.62"/>
<polygon points="426.04,33.80 427.00,33.00 435.60,33.00 436.56,33.80 435.60,34.60 427.00,34.60" fill="#000" fill-opacity="0.5"/>
<polygon points="437.30,33.10 438.50,32.10 450.00,32.10 451.20,33.10 450.00,34.10 438.50,34.10" fill="#000" fill-opacity="0.9"/>
</g></svg>
<text x="457.8" y="36.4" font-size="9.2" font-weight="normal" fill="#111" text-anchor="start" textLength="51.30" lengthAdjust="spacingAndGlyphs"  stroke="#111" stroke-width="0.2">p-Akt (S473)</text>
<rect x="318.3" y="43.3" width="137.30" height="13.60" fill="#efefef" stroke="#7c7c7c" stroke-width="1"/>
<svg x="318.8" y="43.8" width="136.30" height="12.60" overflow="hidden"><g filter="url(#bl1)" transform="translate(-318.8,-43.8)">
<polygon points="318.70,49.60 320.50,48.10 328.00,48.00 334.00,47.60 341.00,47.20 347.50,47.50 352.00,48.70 358.00,48.70 362.00,47.90 368.00,47.80 374.00,48.00 375.92,49.60 374.00,51.20 368.00,51.40 362.00,51.30 358.00,50.50 352.00,50.50 347.50,51.70 341.00,52.20 334.00,51.60 328.00,51.20 320.50,51.10" fill="#000" fill-opacity="1"/>
<polygon points="386.46,49.60 388.50,47.90 395.00,47.80 401.00,48.30 404.00,48.90 409.00,48.90 412.00,48.10 419.00,48.00 425.50,48.20 427.18,49.60 425.50,51.00 419.00,51.20 412.00,51.10 409.00,50.30 404.00,50.30 401.00,50.90 395.00,51.40 388.50,51.30" fill="#000" fill-opacity="1"/>
<polygon points="426.28,49.60 427.00,49.00 451.00,49.00 451.72,49.60 451.00,50.20 427.00,50.20" fill="#000" fill-opacity="0.1"/>
</g></svg>
<text x="458.9" y="54.0" font-size="9.2" font-weight="normal" fill="#111" text-anchor="start" textLength="18.60" lengthAdjust="spacingAndGlyphs"  stroke="#111" stroke-width="0.2">Pten</text>
<rect x="318.3" y="60.9" width="137.30" height="14.00" fill="#efefef" stroke="#7c7c7c" stroke-width="1"/>
<svg x="318.8" y="61.4" width="136.30" height="13.00" overflow="hidden"><g filter="url(#bl1)" transform="translate(-318.8,-61.4)">
<polygon points="318.70,68.00 320.50,66.50 327.00,66.30 333.00,66.30 340.00,66.00 347.00,66.10 353.00,66.40 360.00,66.10 366.00,65.90 373.00,66.30 375.16,68.10 373.00,69.90 366.00,70.50 360.00,70.30 353.00,70.00 347.00,70.50 340.00,71.00 333.00,70.30 327.00,69.70 320.50,69.50" fill="#000" fill-opacity="1"/>
<polygon points="375.04,68.40 376.00,67.60 384.00,67.60 384.96,68.40 384.00,69.20 376.00,69.20" fill="#000" fill-opacity="0.12"/>
<polygon points="386.82,68.30 388.50,66.90 394.00,66.65 400.50,66.90 402.18,68.30 400.50,69.70 394.00,69.95 388.50,69.70" fill="#000" fill-opacity="1"/>
<polygon points="409.56,68.40 411.00,67.20 416.00,67.00 422.00,67.20 423.44,68.40 422.00,69.60 416.00,69.80 411.00,69.60" fill="#000" fill-opacity="0.6"/>
<polygon points="421.68,68.40 423.00,67.30 428.00,67.20 433.50,67.40 434.70,68.40 433.50,69.40 428.00,69.60 423.00,69.50" fill="#000" fill-opacity="0.5"/>
<polygon points="436.16,68.60 437.00,67.90 452.00,67.90 452.84,68.60 452.00,69.30 437.00,69.30" fill="#000" fill-opacity="0.13"/>
</g></svg>
<text x="458.9" y="71.2" font-size="9.2" font-weight="normal" fill="#111" text-anchor="start" textLength="32.70" lengthAdjust="spacingAndGlyphs"  stroke="#111" stroke-width="0.2">p27kip1</text>
<rect x="318.3" y="78.5" width="137.30" height="13.80" fill="#efefef" stroke="#7c7c7c" stroke-width="1"/>
<svg x="318.8" y="79.0" width="136.30" height="12.80" overflow="hidden"><g filter="url(#bl1)" transform="translate(-318.8,-79.0)">
<polygon points="320.60,83.10 321.80,82.10 330.00,82.10 339.00,82.40 347.00,82.35 354.50,82.30 364.00,82.60 373.70,82.90 381.00,82.70 389.00,82.50 401.00,82.15 410.00,82.85 418.30,83.45 426.00,83.40 433.70,83.20 443.00,83.20 452.00,83.20 452.96,84.00 452.00,84.80 443.00,85.40 433.70,85.80 426.00,86.20 418.30,86.55 410.00,85.75 401.00,85.05 389.00,85.10 381.00,85.30 373.70,85.50 364.00,85.20 354.50,84.90 347.00,84.85 339.00,85.20 330.00,84.50 321.80,84.10" fill="#000" fill-opacity="1"/>
</g></svg>
<text x="458.2" y="88.7" font-size="9.2" font-weight="normal" fill="#111" text-anchor="start" textLength="21.30" lengthAdjust="spacingAndGlyphs"  stroke="#111" stroke-width="0.2">Actin</text>
<text x="189.5" y="407.1" font-size="12.1" font-weight="bold" fill="#000" text-anchor="start" >H</text>
<text x="235.4" y="406.3" font-size="11" font-weight="normal" fill="#111" text-anchor="start" textLength="29.40" lengthAdjust="spacingAndGlyphs"  stroke="#111" stroke-width="0.2">T-ALLs</text>
<text x="306.5" y="406.3" font-size="11" font-weight="normal" fill="#111" text-anchor="start" textLength="27.50" lengthAdjust="spacingAndGlyphs"  stroke="#111" stroke-width="0.2">Cntrls</text>
<rect x="200.4" y="414.3" width="99" height="1.5" fill="#111"/>
<rect x="301.2" y="414.3" width="38.4" height="1.5" fill="#111"/>
<rect x="199.3" y="420.3" width="140.20" height="14.90" fill="#efefef" stroke="#7c7c7c" stroke-width="1"/>
<svg x="199.8" y="420.8" width="139.20" height="13.90" overflow="hidden"><g filter="url(#bl1)" transform="translate(-199.8,-420.8)">
<polygon points="198.28,429.80 200.50,427.95 205.00,427.70 210.50,427.85 216.00,427.75 222.00,427.80 227.00,427.70 232.50,428.05 234.60,429.80 232.50,431.55 227.00,432.10 222.00,431.80 216.00,432.25 210.50,431.75 205.00,432.10 200.50,431.65" fill="#000" fill-opacity="1"/>
<polygon points="232.38,429.60 234.00,428.25 238.00,427.95 242.00,428.25 243.62,429.60 242.00,430.95 238.00,431.05 234.00,430.95" fill="#000" fill-opacity="0.7"/>
<polygon points="241.88,430.00 243.50,428.65 248.00,428.45 252.00,428.65 253.62,430.00 252.00,431.35 248.00,431.55 243.50,431.35" fill="#000" fill-opacity="0.9"/>
<polygon points="251.02,428.50 254.20,425.85 259.00,425.25 264.30,425.95 267.48,428.60 264.30,431.25 259.00,431.75 254.20,431.15" fill="#000" fill-opacity="1"/>
<polygon points="266.66,430.20 267.50,429.50 273.00,429.50 273.84,430.20 273.00,430.90 267.50,430.90" fill="#000" fill-opacity="0.25"/>
<polygon points="275.56,430.00 277.30,428.55 282.00,428.25 286.50,428.55 288.24,430.00 286.50,431.45 282.00,431.75 277.30,431.45" fill="#000" fill-opacity="1"/>
<polygon points="288.78,430.00 289.50,429.40 296.50,429.40 297.22,430.00 296.50,430.60 289.50,430.60" fill="#000" fill-opacity="0.12"/>
<polygon points="300.06,428.80 301.80,427.35 306.00,427.05 310.30,427.35 312.04,428.80 310.30,430.25 306.00,430.55 301.80,430.25" fill="#000" fill-opacity="0.85"/>
<polygon points="316.40,428.00 317.00,427.50 323.00,427.50 323.60,428.00 323.00,428.50 317.00,428.50" fill="#000" fill-opacity="0.07"/>
<polygon points="326.78,426.20 327.50,425.60 334.50,425.60 335.22,426.20 334.50,426.80 327.50,426.80" fill="#000" fill-opacity="0.1"/>
</g></svg>
<text x="346.9" y="431.5" font-size="9.2" font-weight="normal" fill="#111" text-anchor="start" textLength="19.30" lengthAdjust="spacingAndGlyphs"  stroke="#111" stroke-width="0.2">Bcl-2</text>
<rect x="199.3" y="440.3" width="140.20" height="14.30" fill="#efefef" stroke="#7c7c7c" stroke-width="1"/>
<svg x="199.8" y="440.8" width="139.20" height="13.30" overflow="hidden"><g filter="url(#bl1)" transform="translate(-199.8,-440.8)">
<polygon points="198.34,448.50 200.80,446.45 208.00,446.45 216.00,446.45 222.00,446.75 226.80,446.80 231.00,446.85 236.00,446.65 241.00,446.55 246.80,446.30 252.00,445.15 257.50,443.80 262.00,444.95 266.80,446.05 271.00,446.35 275.00,446.30 281.40,446.15 286.00,446.30 292.00,445.95 298.00,444.75 304.50,443.55 310.00,443.75 316.80,443.45 322.00,443.55 325.50,443.75 330.60,442.40 337.30,442.75 339.52,444.60 337.30,446.45 330.60,446.80 325.50,447.25 322.00,448.05 316.80,448.55 310.00,449.05 304.50,449.45 298.00,449.25 292.00,449.05 286.00,449.70 281.40,450.25 275.00,450.70 271.00,450.65 266.80,449.95 262.00,449.45 257.50,449.20 252.00,449.65 246.80,449.70 241.00,450.05 236.00,450.55 231.00,450.75 226.80,451.20 222.00,451.25 216.00,451.55 208.00,451.15 200.80,450.55" fill="#000" fill-opacity="1"/>
</g></svg>
<text x="346.5" y="450.8" font-size="9.2" font-weight="normal" fill="#111" text-anchor="start" textLength="20.50" lengthAdjust="spacingAndGlyphs"  stroke="#111" stroke-width="0.2">Actin</text>
<defs><linearGradient id="cbar" x1="0" x2="1"><stop offset="0" stop-color="#e6363d"/><stop offset="0.17" stop-color="#e8454d"/><stop offset="0.171" stop-color="#eb5a66"/><stop offset="0.283" stop-color="#ee7a86"/><stop offset="0.284" stop-color="#f3b9d6"/><stop offset="0.345" stop-color="#f2bedb"/><stop offset="0.346" stop-color="#dcdaf2"/><stop offset="0.405" stop-color="#dad8f1"/><stop offset="0.406" stop-color="#cfcdee"/><stop offset="0.49" stop-color="#cccaed"/><stop offset="0.491" stop-color="#7c7cc8"/><stop offset="0.655" stop-color="#8080c9"/><stop offset="0.656" stop-color="#5050aa"/><stop offset="0.935" stop-color="#4a4aa6"/><stop offset="0.936" stop-color="#36369e"/><stop offset="1" stop-color="#34349c"/></linearGradient></defs>
<text x="299.2" y="116.2" font-size="12.1" font-weight="bold" fill="#000" text-anchor="start" >C</text>
<rect x="331.90" y="182.6" width="1.20" height="17.60" fill="rgb(68,68,68)"/>
<rect x="333.10" y="182.6" width="0.70" height="17.60" fill="rgb(119,119,119)"/>
<rect x="333.80" y="182.6" width="1.20" height="17.60" fill="rgb(85,85,85)"/>
<rect x="335.00" y="182.6" width="1.20" height="17.60" fill="rgb(136,136,136)"/>
<rect x="336.20" y="182.6" width="1.50" height="17.60" fill="rgb(153,153,153)"/>
<rect x="337.70" y="182.6" width="1.10" height="17.60" fill="rgb(170,170,170)"/>
<rect x="339.00" y="182.6" width="2.90" height="17.60" fill="rgb(85,85,85)"/>
<rect x="341.90" y="182.6" width="0.80" height="17.60" fill="rgb(34,34,34)"/>
<rect x="343.80" y="182.6" width="1.20" height="17.60" fill="rgb(187,187,187)"/>
<rect x="345.80" y="182.6" width="1.90" height="17.60" fill="rgb(34,34,34)"/>
<rect x="348.80" y="182.6" width="0.80" height="17.60" fill="rgb(153,153,153)"/>
<rect x="354.20" y="182.6" width="1.20" height="17.60" fill="rgb(153,153,153)"/>
<rect x="355.80" y="182.6" width="1.00" height="17.60" fill="rgb(51,51,51)"/>
<rect x="357.20" y="182.6" width="1.20" height="17.60" fill="rgb(187,187,187)"/>
<rect x="358.80" y="182.6" width="0.80" height="17.60" fill="rgb(153,153,153)"/>
<rect x="360.00" y="182.6" width="0.80" height="17.60" fill="rgb(204,204,204)"/>
<rect x="362.70" y="182.6" width="1.90" height="17.60" fill="rgb(34,34,34)"/>
<rect x="367.30" y="182.6" width="0.70" height="17.60" fill="rgb(136,136,136)"/>
<rect x="368.00" y="182.6" width="0.80" height="17.60" fill="rgb(204,204,204)"/>
<rect x="371.00" y="182.6" width="1.20" height="17.60" fill="rgb(187,187,187)"/>
<rect x="374.00" y="182.6" width="1.10" height="17.60" fill="rgb(102,102,102)"/>
<rect x="378.00" y="182.6" width="2.70" height="17.60" fill="rgb(136,136,136)"/>
<rect x="387.20" y="182.6" width="1.60" height="17.60" fill="rgb(170,170,170)"/>
<rect x="388.80" y="182.6" width="1.10" height="17.60" fill="rgb(136,136,136)"/>
<rect x="396.80" y="182.6" width="1.60" height="17.60" fill="rgb(85,85,85)"/>
<rect x="398.40" y="182.6" width="1.20" height="17.60" fill="rgb(170,170,170)"/>
<rect x="401.80" y="182.6" width="3.10" height="17.60" fill="rgb(153,153,153)"/>
<rect x="410.20" y="182.6" width="0.80" height="17.60" fill="rgb(136,136,136)"/>
<rect x="411.50" y="182.6" width="0.80" height="17.60" fill="rgb(187,187,187)"/>
<rect x="425.60" y="182.6" width="0.90" height="17.60" fill="rgb(60,60,60)"/>
<rect x="430.40" y="182.6" width="0.90" height="17.60" fill="rgb(136,136,136)"/>
<rect x="436.80" y="182.6" width="0.80" height="17.60" fill="rgb(136,136,136)"/>
<rect x="438.00" y="182.6" width="0.80" height="17.60" fill="rgb(187,187,187)"/>
<rect x="447.00" y="182.6" width="0.90" height="17.60" fill="rgb(68,68,68)"/>
<rect x="454.80" y="182.6" width="0.80" height="17.60" fill="rgb(190,190,190)"/>
<rect x="332.00" y="200.2" width="130.00" height="5.00" fill="url(#cbar)"/>
<polyline points="331.80,178.00 332.20,177.40 333.50,169.00 335.60,161.50 338.40,155.20 341.20,149.70 342.10,144.20 343.00,138.30 344.60,136.50 346.40,135.80 347.00,132.40 347.70,128.90 349.50,128.90 350.40,130.00 352.20,131.00 354.60,132.40 357.10,129.60 358.70,130.60 361.20,129.60 362.60,131.00 365.10,128.60 369.50,131.70 376.50,136.50 383.40,141.40 388.90,144.20 393.10,146.90 396.50,149.40 400.00,149.60 404.60,151.20 410.40,155.10 415.00,156.50 419.60,159.70 425.40,163.80 427.70,162.70 430.00,165.00 431.80,163.80 435.80,167.30 438.00,163.80 442.70,167.30 447.30,169.60 455.40,173.50 461.80,177.70" fill="none" stroke="#c8102e" stroke-width="1.3" stroke-linejoin="round"/>
<rect x="331.50" y="125.90" width="137.70" height="79.30" fill="none" stroke="#000" stroke-width="1.3"/>
<line x1="331.50" x2="469.20" y1="178.2" y2="178.2" stroke="#000" stroke-width="1.6"/>
<text x="326.6" y="181.2" font-size="9.3" font-weight="normal" fill="#111" text-anchor="end" textLength="13.60" lengthAdjust="spacingAndGlyphs"  stroke="#111" stroke-width="0.15">0.0</text>
<text x="326.6" y="171.8" font-size="9.3" font-weight="normal" fill="#111" text-anchor="end" textLength="13.60" lengthAdjust="spacingAndGlyphs"  stroke="#111" stroke-width="0.15">0.1</text>
<text x="326.6" y="162.5" font-size="9.3" font-weight="normal" fill="#111" text-anchor="end" textLength="13.60" lengthAdjust="spacingAndGlyphs"  stroke="#111" stroke-width="0.15">0.2</text>
<text x="326.6" y="153.1" font-size="9.3" font-weight="normal" fill="#111" text-anchor="end" textLength="13.60" lengthAdjust="spacingAndGlyphs"  stroke="#111" stroke-width="0.15">0.3</text>
<text x="326.6" y="143.8" font-size="9.3" font-weight="normal" fill="#111" text-anchor="end" textLength="13.60" lengthAdjust="spacingAndGlyphs"  stroke="#111" stroke-width="0.15">0.4</text>
<text x="326.6" y="134.4" font-size="9.3" font-weight="normal" fill="#111" text-anchor="end" textLength="13.60" lengthAdjust="spacingAndGlyphs"  stroke="#111" stroke-width="0.15">0.5</text>
<text x="330.0" y="116.2" font-size="10.6" font-weight="normal" fill="#333" text-anchor="start" textLength="131.60" lengthAdjust="spacingAndGlyphs" >KEGG Phosphatidylinositol signaling</text>
<text x="330.7" y="220.5" font-size="10.3" font-weight="normal" fill="#333" text-anchor="start" textLength="127.10" lengthAdjust="spacingAndGlyphs" >Normalized enrichment score = 2.9</text>
<text x="330.7" y="232.6" font-size="10.3" font-weight="normal" fill="#333" text-anchor="start" textLength="78.90" lengthAdjust="spacingAndGlyphs" >FDR q-value &lt; 0.0001</text>
<text x="0" y="0" font-size="10.6" fill="#222" stroke="#222" stroke-width="0.15" text-anchor="middle" textLength="61.2" lengthAdjust="spacingAndGlyphs" transform="translate(307.6,154.5) rotate(-90)">Enrichment score</text>
<text x="7.8" y="261.1" font-size="12.1" font-weight="bold" fill="#000" text-anchor="start" >D</text>
<rect x="38.20" y="328.6" width="1.00" height="19.00" fill="rgb(85,85,85)"/>
<rect x="39.80" y="328.6" width="1.00" height="19.00" fill="rgb(51,51,51)"/>
<rect x="41.80" y="328.6" width="1.00" height="19.00" fill="rgb(119,119,119)"/>
<rect x="43.00" y="328.6" width="1.00" height="19.00" fill="rgb(85,85,85)"/>
<rect x="46.70" y="328.6" width="0.70" height="19.00" fill="rgb(68,68,68)"/>
<rect x="47.50" y="328.6" width="0.80" height="19.00" fill="rgb(102,102,102)"/>
<rect x="51.20" y="328.6" width="0.90" height="19.00" fill="rgb(85,85,85)"/>
<rect x="55.00" y="328.6" width="1.00" height="19.00" fill="rgb(68,68,68)"/>
<rect x="58.50" y="328.6" width="0.80" height="19.00" fill="rgb(102,102,102)"/>
<rect x="59.40" y="328.6" width="0.80" height="19.00" fill="rgb(119,119,119)"/>
<rect x="61.30" y="328.6" width="0.80" height="19.00" fill="rgb(102,102,102)"/>
<rect x="63.40" y="328.6" width="0.90" height="19.00" fill="rgb(85,85,85)"/>
<rect x="68.20" y="328.6" width="0.90" height="19.00" fill="rgb(68,68,68)"/>
<rect x="78.60" y="328.6" width="0.90" height="19.00" fill="rgb(136,136,136)"/>
<rect x="82.00" y="328.6" width="0.90" height="19.00" fill="rgb(153,153,153)"/>
<rect x="84.80" y="328.6" width="0.90" height="19.00" fill="rgb(136,136,136)"/>
<rect x="101.30" y="328.6" width="0.90" height="19.00" fill="rgb(136,136,136)"/>
<rect x="113.00" y="328.6" width="0.80" height="19.00" fill="rgb(119,119,119)"/>
<rect x="118.60" y="328.6" width="0.80" height="19.00" fill="rgb(119,119,119)"/>
<rect x="138.30" y="328.6" width="0.80" height="19.00" fill="rgb(119,119,119)"/>
<rect x="144.90" y="328.6" width="0.80" height="19.00" fill="rgb(119,119,119)"/>
<rect x="37.00" y="347.6" width="129.80" height="4.60" fill="url(#cbar)"/>
<polyline points="36.80,324.60 38.20,320.00 39.50,315.20 40.60,313.80 41.60,306.80 43.00,303.40 44.40,299.20 45.80,299.90 46.70,296.20 47.80,297.60 49.20,288.80 51.30,289.80 52.30,290.20 53.00,280.10 54.80,281.50 56.20,280.50 57.50,281.20 58.90,279.60 59.60,280.50 61.00,275.70 63.10,274.60 64.50,274.30 65.80,272.50 67.90,273.60 69.30,274.30 70.70,273.60 75.50,277.10 89.40,285.40 100.30,291.60 102.10,290.30 113.20,297.20 115.10,296.60 121.60,300.50 138.30,309.30 139.80,308.70 144.90,313.00 146.70,312.10 167.20,324.70" fill="none" stroke="#c8102e" stroke-width="1.3" stroke-linejoin="round"/>
<rect x="36.50" y="269.70" width="136.60" height="82.50" fill="none" stroke="#000" stroke-width="1.3"/>
<line x1="36.50" x2="173.10" y1="325.3" y2="325.3" stroke="#000" stroke-width="1.6"/>
<text x="32.9" y="328.4" font-size="9.3" font-weight="normal" fill="#111" text-anchor="end" textLength="13.00" lengthAdjust="spacingAndGlyphs"  stroke="#111" stroke-width="0.15">0.0</text>
<text x="32.9" y="320.0" font-size="9.3" font-weight="normal" fill="#111" text-anchor="end" textLength="13.00" lengthAdjust="spacingAndGlyphs"  stroke="#111" stroke-width="0.15">0.1</text>
<text x="32.9" y="311.5" font-size="9.3" font-weight="normal" fill="#111" text-anchor="end" textLength="13.00" lengthAdjust="spacingAndGlyphs"  stroke="#111" stroke-width="0.15">0.2</text>
<text x="32.9" y="303.1" font-size="9.3" font-weight="normal" fill="#111" text-anchor="end" textLength="13.00" lengthAdjust="spacingAndGlyphs"  stroke="#111" stroke-width="0.15">0.3</text>
<text x="32.9" y="294.7" font-size="9.3" font-weight="normal" fill="#111" text-anchor="end" textLength="13.00" lengthAdjust="spacingAndGlyphs"  stroke="#111" stroke-width="0.15">0.4</text>
<text x="32.9" y="286.2" font-size="9.3" font-weight="normal" fill="#111" text-anchor="end" textLength="13.00" lengthAdjust="spacingAndGlyphs"  stroke="#111" stroke-width="0.15">0.5</text>
<text x="32.9" y="277.8" font-size="9.3" font-weight="normal" fill="#111" text-anchor="end" textLength="13.00" lengthAdjust="spacingAndGlyphs"  stroke="#111" stroke-width="0.15">0.6</text>
<text x="36.7" y="260.7" font-size="10.6" font-weight="normal" fill="#333" text-anchor="start" textLength="77.90" lengthAdjust="spacingAndGlyphs" >KEGG mTOR signaling</text>
<text x="36.2" y="367.5" font-size="10.3" font-weight="normal" fill="#333" text-anchor="start" textLength="127.60" lengthAdjust="spacingAndGlyphs" >Normalized enrichment score = 3.4</text>
<text x="36.2" y="379.6" font-size="10.3" font-weight="normal" fill="#333" text-anchor="start" textLength="79.40" lengthAdjust="spacingAndGlyphs" >FDR q-value &lt; 0.0001</text>
<text x="0" y="0" font-size="10.6" fill="#222" stroke="#222" stroke-width="0.15" text-anchor="middle" textLength="61.6" lengthAdjust="spacingAndGlyphs" transform="translate(16.6,299.5) rotate(-90)">Enrichment score</text>
<text x="188.7" y="260.8" font-size="12.1" font-weight="bold" fill="#000" text-anchor="start" >E</text>
<rect x="208.50" y="328.2" width="2.70" height="18.40" fill="rgb(17,17,17)"/>
<rect x="211.20" y="328.2" width="3.50" height="18.40" fill="rgb(68,68,68)"/>
<rect x="216.80" y="328.2" width="4.10" height="18.40" fill="rgb(51,51,51)"/>
<rect x="223.00" y="328.2" width="1.40" height="18.40" fill="rgb(119,119,119)"/>
<rect x="225.00" y="328.2" width="1.90" height="18.40" fill="rgb(136,136,136)"/>
<rect x="230.00" y="328.2" width="1.00" height="18.40" fill="rgb(68,68,68)"/>
<rect x="232.00" y="328.2" width="2.80" height="18.40" fill="rgb(153,153,153)"/>
<rect x="234.80" y="328.2" width="2.70" height="18.40" fill="rgb(187,187,187)"/>
<rect x="237.50" y="328.2" width="2.00" height="18.40" fill="rgb(204,204,204)"/>
<rect x="239.50" y="328.2" width="2.20" height="18.40" fill="rgb(170,170,170)"/>
<rect x="241.70" y="328.2" width="1.30" height="18.40" fill="rgb(136,136,136)"/>
<rect x="244.50" y="328.2" width="2.00" height="18.40" fill="rgb(68,68,68)"/>
<rect x="246.50" y="328.2" width="4.20" height="18.40" fill="rgb(136,136,136)"/>
<rect x="252.00" y="328.2" width="1.70" height="18.40" fill="rgb(51,51,51)"/>
<rect x="259.70" y="328.2" width="2.10" height="18.40" fill="rgb(153,153,153)"/>
<rect x="263.20" y="328.2" width="2.70" height="18.40" fill="rgb(136,136,136)"/>
<rect x="268.00" y="328.2" width="3.00" height="18.40" fill="rgb(119,119,119)"/>
<rect x="271.00" y="328.2" width="2.50" height="18.40" fill="rgb(85,85,85)"/>
<rect x="274.00" y="328.2" width="1.40" height="18.40" fill="rgb(200,200,200)"/>
<rect x="276.80" y="328.2" width="2.00" height="18.40" fill="rgb(136,136,136)"/>
<rect x="281.60" y="328.2" width="2.80" height="18.40" fill="rgb(136,136,136)"/>
<rect x="285.80" y="328.2" width="3.70" height="18.40" fill="rgb(25,25,25)"/>
<rect x="292.00" y="328.2" width="1.40" height="18.40" fill="rgb(187,187,187)"/>
<rect x="295.50" y="328.2" width="2.00" height="18.40" fill="rgb(136,136,136)"/>
<rect x="299.00" y="328.2" width="2.00" height="18.40" fill="rgb(85,85,85)"/>
<rect x="303.00" y="328.2" width="3.00" height="18.40" fill="rgb(153,153,153)"/>
<rect x="307.20" y="328.2" width="1.40" height="18.40" fill="rgb(204,204,204)"/>
<rect x="314.40" y="328.2" width="1.10" height="18.40" fill="rgb(34,34,34)"/>
<rect x="321.80" y="328.2" width="2.70" height="18.40" fill="rgb(153,153,153)"/>
<rect x="324.50" y="328.2" width="1.80" height="18.40" fill="rgb(85,85,85)"/>
<rect x="326.30" y="328.2" width="1.00" height="18.40" fill="rgb(153,153,153)"/>
<rect x="327.80" y="328.2" width="0.70" height="18.40" fill="rgb(68,68,68)"/>
<rect x="332.80" y="328.2" width="2.20" height="18.40" fill="rgb(187,187,187)"/>
<rect x="208.00" y="346.6" width="129.70" height="4.80" fill="url(#cbar)"/>
<polyline points="207.90,323.80 208.80,314.80 209.80,303.80 210.90,292.70 212.30,287.20 214.00,280.20 215.10,279.10 216.50,281.90 217.80,278.20 219.20,275.40 220.90,271.60 223.10,274.40 224.80,272.20 226.40,270.80 228.20,272.20 229.60,274.40 231.00,273.00 234.50,274.70 236.10,275.40 237.20,274.00 240.00,276.80 244.20,278.80 247.60,280.50 251.10,283.70 256.60,289.20 262.20,294.80 267.70,299.60 271.80,300.30 273.00,298.90 276.00,301.70 278.60,303.70 282.30,306.50 287.00,308.30 289.80,304.60 291.60,305.60 293.50,304.60 299.00,308.70 300.90,306.50 305.60,308.70 306.50,308.00 313.90,314.90 315.80,313.90 322.30,320.40 324.10,319.90 326.00,319.50 327.30,316.70 329.70,319.90 332.90,322.30 334.40,321.00 335.90,322.80 337.70,324.20" fill="none" stroke="#c8102e" stroke-width="1.3" stroke-linejoin="round"/>
<rect x="207.50" y="268.60" width="137.10" height="82.80" fill="none" stroke="#000" stroke-width="1.3"/>
<line x1="207.50" x2="344.60" y1="324.5" y2="324.5" stroke="#000" stroke-width="1.6"/>
<text x="203.9" y="327.2" font-size="9.3" font-weight="normal" fill="#111" text-anchor="end" textLength="13.20" lengthAdjust="spacingAndGlyphs"  stroke="#111" stroke-width="0.15">0.0</text>
<text x="203.9" y="313.8" font-size="9.3" font-weight="normal" fill="#111" text-anchor="end" textLength="13.20" lengthAdjust="spacingAndGlyphs"  stroke="#111" stroke-width="0.15">0.1</text>
<text x="203.9" y="300.3" font-size="9.3" font-weight="normal" fill="#111" text-anchor="end" textLength="13.20" lengthAdjust="spacingAndGlyphs"  stroke="#111" stroke-width="0.15">0.2</text>
<text x="203.9" y="286.8" font-size="9.3" font-weight="normal" fill="#111" text-anchor="end" textLength="13.20" lengthAdjust="spacingAndGlyphs"  stroke="#111" stroke-width="0.15">0.3</text>
<text x="208.7" y="260.8" font-size="10.6" font-weight="normal" fill="#333" text-anchor="start" textLength="88.50" lengthAdjust="spacingAndGlyphs" >KEGG JAK-STAT signaling</text>
<text x="208.6" y="366.7" font-size="10.3" font-weight="normal" fill="#333" text-anchor="start" textLength="125.70" lengthAdjust="spacingAndGlyphs" >Normalized enrichment score = 2.4</text>
<text x="208.6" y="378.8" font-size="10.3" font-weight="normal" fill="#333" text-anchor="start" textLength="79.40" lengthAdjust="spacingAndGlyphs" >FDR q-value &lt; 0.0001</text>
<text x="359.2" y="260.8" font-size="12.1" font-weight="bold" fill="#000" text-anchor="start" >F</text>
<rect x="376.50" y="328.2" width="2.70" height="18.40" fill="rgb(119,119,119)"/>
<rect x="384.00" y="328.2" width="2.80" height="18.40" fill="rgb(51,51,51)"/>
<rect x="388.90" y="328.2" width="1.40" height="18.40" fill="rgb(85,85,85)"/>
<rect x="391.70" y="328.2" width="1.00" height="18.40" fill="rgb(136,136,136)"/>
<rect x="397.20" y="328.2" width="1.00" height="18.40" fill="rgb(68,68,68)"/>
<rect x="402.00" y="328.2" width="1.50" height="18.40" fill="rgb(153,153,153)"/>
<rect x="405.50" y="328.2" width="1.40" height="18.40" fill="rgb(51,51,51)"/>
<rect x="411.80" y="328.2" width="1.60" height="18.40" fill="rgb(119,119,119)"/>
<rect x="414.50" y="328.2" width="1.40" height="18.40" fill="rgb(136,136,136)"/>
<rect x="417.00" y="328.2" width="3.00" height="18.40" fill="rgb(119,119,119)"/>
<rect x="422.80" y="328.2" width="1.20" height="18.40" fill="rgb(85,85,85)"/>
<rect x="426.30" y="328.2" width="2.10" height="18.40" fill="rgb(170,170,170)"/>
<rect x="434.60" y="328.2" width="1.40" height="18.40" fill="rgb(204,204,204)"/>
<rect x="439.50" y="328.2" width="1.30" height="18.40" fill="rgb(204,204,204)"/>
<rect x="451.40" y="328.2" width="0.60" height="18.40" fill="rgb(200,200,200)"/>
<rect x="454.20" y="328.2" width="1.00" height="18.40" fill="rgb(136,136,136)"/>
<rect x="462.50" y="328.2" width="0.50" height="18.40" fill="rgb(200,200,200)"/>
<rect x="463.50" y="328.2" width="1.30" height="18.40" fill="rgb(153,153,153)"/>
<rect x="473.60" y="328.2" width="1.40" height="18.40" fill="rgb(153,153,153)"/>
<rect x="376.10" y="346.6" width="129.10" height="4.60" fill="url(#cbar)"/>
<polyline points="375.90,323.60 376.80,316.90 377.80,316.20 378.90,305.80 380.00,302.40 381.00,303.80 381.70,301.30 384.20,303.50 385.80,294.80 387.20,287.20 388.60,285.10 389.30,285.50 390.70,274.70 392.10,276.10 392.80,273.60 397.20,278.20 397.60,270.50 403.20,274.70 403.80,271.20 405.20,273.30 406.90,270.80 410.10,273.60 412.80,274.00 419.10,277.50 425.30,280.90 428.10,281.90 434.30,286.20 436.40,286.00 437.40,287.00 438.90,286.40 442.10,288.80 451.90,295.30 454.20,294.40 460.70,299.40 463.10,298.10 464.40,299.00 473.70,304.60 475.60,300.90 506.20,323.60" fill="none" stroke="#c8102e" stroke-width="1.3" stroke-linejoin="round"/>
<rect x="375.60" y="268.60" width="136.90" height="82.60" fill="none" stroke="#000" stroke-width="1.3"/>
<line x1="375.60" x2="512.50" y1="324.5" y2="324.5" stroke="#000" stroke-width="1.6"/>
<text x="372.2" y="327.0" font-size="9.3" font-weight="normal" fill="#111" text-anchor="end" textLength="13.50" lengthAdjust="spacingAndGlyphs"  stroke="#111" stroke-width="0.15">0.0</text>
<text x="372.2" y="317.3" font-size="9.3" font-weight="normal" fill="#111" text-anchor="end" textLength="13.50" lengthAdjust="spacingAndGlyphs"  stroke="#111" stroke-width="0.15">0.1</text>
<text x="372.2" y="307.6" font-size="9.3" font-weight="normal" fill="#111" text-anchor="end" textLength="13.50" lengthAdjust="spacingAndGlyphs"  stroke="#111" stroke-width="0.15">0.2</text>
<text x="372.2" y="298.0" font-size="9.3" font-weight="normal" fill="#111" text-anchor="end" textLength="13.50" lengthAdjust="spacingAndGlyphs"  stroke="#111" stroke-width="0.15">0.3</text>
<text x="372.2" y="288.3" font-size="9.3" font-weight="normal" fill="#111" text-anchor="end" textLength="13.50" lengthAdjust="spacingAndGlyphs"  stroke="#111" stroke-width="0.15">0.4</text>
<text x="372.2" y="278.6" font-size="9.3" font-weight="normal" fill="#111" text-anchor="end" textLength="13.50" lengthAdjust="spacingAndGlyphs"  stroke="#111" stroke-width="0.15">0.5</text>
<text x="374.7" y="260.8" font-size="10.6" font-weight="normal" fill="#333" text-anchor="start" textLength="78.80" lengthAdjust="spacingAndGlyphs" >KEGG Notch signaling</text>
<text x="374.7" y="366.5" font-size="10.3" font-weight="normal" fill="#333" text-anchor="start" textLength="127.10" lengthAdjust="spacingAndGlyphs" >Normalized enrichment score = 2.7</text>
<text x="374.7" y="378.6" font-size="10.3" font-weight="normal" fill="#333" text-anchor="start" textLength="79.80" lengthAdjust="spacingAndGlyphs" >FDR q-value &lt; 0.0001</text>
<text x="7.0" y="407.0" font-size="12.1" font-weight="bold" fill="#000" text-anchor="start" >G</text>
<rect x="37.00" y="476.9" width="1.20" height="18.90" fill="rgb(51,51,51)"/>
<rect x="38.80" y="476.9" width="1.80" height="18.90" fill="rgb(17,17,17)"/>
<rect x="40.60" y="476.9" width="3.10" height="18.90" fill="rgb(17,17,17)"/>
<rect x="44.40" y="476.9" width="1.40" height="18.90" fill="rgb(136,136,136)"/>
<rect x="45.80" y="476.9" width="1.40" height="18.90" fill="rgb(170,170,170)"/>
<rect x="47.20" y="476.9" width="2.80" height="18.90" fill="rgb(17,17,17)"/>
<rect x="50.00" y="476.9" width="3.40" height="18.90" fill="rgb(51,51,51)"/>
<rect x="53.40" y="476.9" width="1.40" height="18.90" fill="rgb(17,17,17)"/>
<rect x="55.90" y="476.9" width="0.90" height="18.90" fill="rgb(153,153,153)"/>
<rect x="58.20" y="476.9" width="1.40" height="18.90" fill="rgb(51,51,51)"/>
<rect x="60.00" y="476.9" width="1.00" height="18.90" fill="rgb(136,136,136)"/>
<rect x="62.40" y="476.9" width="1.40" height="18.90" fill="rgb(51,51,51)"/>
<rect x="65.20" y="476.9" width="1.30" height="18.90" fill="rgb(153,153,153)"/>
<rect x="67.90" y="476.9" width="1.00" height="18.90" fill="rgb(34,34,34)"/>
<rect x="76.20" y="476.9" width="1.00" height="18.90" fill="rgb(136,136,136)"/>
<rect x="78.00" y="476.9" width="1.00" height="18.90" fill="rgb(85,85,85)"/>
<rect x="83.20" y="476.9" width="2.00" height="18.90" fill="rgb(187,187,187)"/>
<rect x="90.00" y="476.9" width="1.00" height="18.90" fill="rgb(51,51,51)"/>
<rect x="97.70" y="476.9" width="1.30" height="18.90" fill="rgb(153,153,153)"/>
<rect x="110.30" y="476.9" width="1.10" height="18.90" fill="rgb(187,187,187)"/>
<rect x="119.30" y="476.9" width="1.40" height="18.90" fill="rgb(153,153,153)"/>
<rect x="120.70" y="476.9" width="1.80" height="18.90" fill="rgb(215,215,215)"/>
<rect x="128.30" y="476.9" width="1.40" height="18.90" fill="rgb(153,153,153)"/>
<rect x="135.20" y="476.9" width="0.70" height="18.90" fill="rgb(204,204,204)"/>
<rect x="143.30" y="476.9" width="1.30" height="18.90" fill="rgb(153,153,153)"/>
<rect x="160.20" y="476.9" width="1.10" height="18.90" fill="rgb(136,136,136)"/>
<rect x="37.00" y="495.8" width="129.20" height="4.00" fill="url(#cbar)"/>
<polyline points="37.00,471.80 38.80,464.20 40.60,455.90 42.60,448.30 44.40,440.00 45.80,437.90 47.20,436.50 48.10,433.80 49.20,427.50 50.60,424.80 52.70,422.70 54.50,421.00 56.20,418.80 57.50,419.90 59.60,420.20 61.70,419.20 63.10,419.90 64.50,419.20 67.20,420.60 70.00,421.60 75.50,424.80 89.40,433.10 108.60,442.20 123.50,449.60 129.00,452.40 145.80,460.80 166.20,471.80" fill="none" stroke="#c8102e" stroke-width="1.3" stroke-linejoin="round"/>
<rect x="36.50" y="417.00" width="136.40" height="82.80" fill="none" stroke="#000" stroke-width="1.3"/>
<line x1="36.50" x2="172.90" y1="473.0" y2="473.0" stroke="#000" stroke-width="1.6"/>
<text x="32.9" y="475.9" font-size="9.3" font-weight="normal" fill="#111" text-anchor="end" textLength="13.00" lengthAdjust="spacingAndGlyphs"  stroke="#111" stroke-width="0.15">0.0</text>
<text x="32.9" y="468.3" font-size="9.3" font-weight="normal" fill="#111" text-anchor="end" textLength="13.00" lengthAdjust="spacingAndGlyphs"  stroke="#111" stroke-width="0.15">0.1</text>
<text x="32.9" y="460.8" font-size="9.3" font-weight="normal" fill="#111" text-anchor="end" textLength="13.00" lengthAdjust="spacingAndGlyphs"  stroke="#111" stroke-width="0.15">0.2</text>
<text x="32.9" y="453.2" font-size="9.3" font-weight="normal" fill="#111" text-anchor="end" textLength="13.00" lengthAdjust="spacingAndGlyphs"  stroke="#111" stroke-width="0.15">0.3</text>
<text x="32.9" y="445.7" font-size="9.3" font-weight="normal" fill="#111" text-anchor="end" textLength="13.00" lengthAdjust="spacingAndGlyphs"  stroke="#111" stroke-width="0.15">0.4</text>
<text x="32.9" y="438.1" font-size="9.3" font-weight="normal" fill="#111" text-anchor="end" textLength="13.00" lengthAdjust="spacingAndGlyphs"  stroke="#111" stroke-width="0.15">0.5</text>
<text x="32.9" y="430.5" font-size="9.3" font-weight="normal" fill="#111" text-anchor="end" textLength="13.00" lengthAdjust="spacingAndGlyphs"  stroke="#111" stroke-width="0.15">0.6</text>
<text x="32.9" y="423.0" font-size="9.3" font-weight="normal" fill="#111" text-anchor="end" textLength="13.00" lengthAdjust="spacingAndGlyphs"  stroke="#111" stroke-width="0.15">0.7</text>
<text x="37.3" y="407.0" font-size="10.6" font-weight="normal" fill="#333" text-anchor="start" textLength="55.50" lengthAdjust="spacingAndGlyphs" >KEGG Cell cycle</text>
<text x="36.8" y="515.1" font-size="10.3" font-weight="normal" fill="#333" text-anchor="start" textLength="128.00" lengthAdjust="spacingAndGlyphs" >Normalized enrichment score = 4.3</text>
<text x="36.8" y="527.2" font-size="10.3" font-weight="normal" fill="#333" text-anchor="start" textLength="80.00" lengthAdjust="spacingAndGlyphs" >FDR q-value &lt; 0.0001</text>
<text x="0" y="0" font-size="10.6" fill="#222" stroke="#222" stroke-width="0.15" text-anchor="middle" textLength="61.6" lengthAdjust="spacingAndGlyphs" transform="translate(16.6,446.8) rotate(-90)">Enrichment score</text>
</g>
<rect x="0.75" y="0.65" width="518.5" height="536.6" fill="none" stroke="#000" stroke-width="1.5"/>
</svg>
</body></html>
